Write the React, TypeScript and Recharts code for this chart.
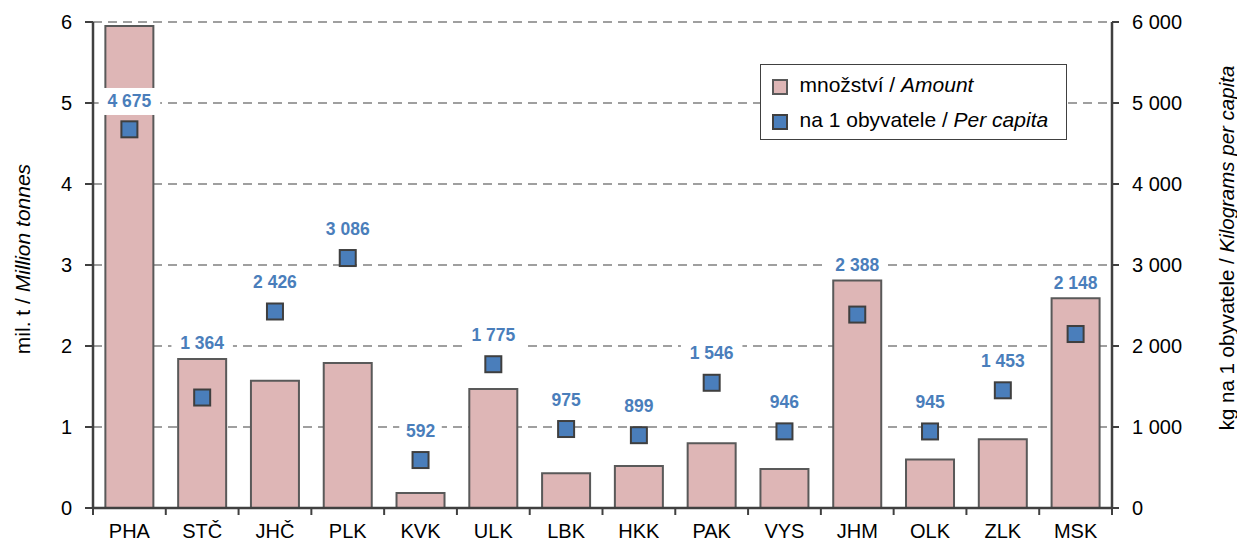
import React from 'react';
import { ComposedChart, Bar, Line, XAxis, YAxis, CartesianGrid, LabelList } from 'recharts';

const categories = ['PHA', 'STČ', 'JHČ', 'PLK', 'KVK', 'ULK', 'LBK', 'HKK', 'PAK', 'VYS', 'JHM', 'OLK', 'ZLK', 'MSK'];
const amount = [5.95, 1.84, 1.57, 1.79, 0.185, 1.47, 0.43, 0.52, 0.8, 0.48, 2.81, 0.6, 0.85, 2.59];
const perCapita = [4675, 1364, 2426, 3086, 592, 1775, 975, 899, 1546, 946, 2388, 945, 1453, 2148];
const leftTicks = [0, 1, 2, 3, 4, 5, 6];
const rightTicks = [0, 1000, 2000, 3000, 4000, 5000, 6000];

// label placement (in right-axis units): above the square, or above the bar when the bar is taller
const GAP_SQUARE = 370;
const GAP_BAR = 200;
const RIGHT_MAX = 6000;

const data = categories.map((c, i) => {
  const overBar = amount[i] * 1000 + GAP_BAR;
  const overSquare = perCapita[i] + GAP_SQUARE;
  let anchor = Math.max(overBar, overSquare);
  if (anchor > RIGHT_MAX) anchor = perCapita[i] + 350;
  return { name: c, amount: amount[i], perCapita: perCapita[i], labelAnchor: anchor };
});

const W = 1237;
const H = 543;
const LEFT_W = 93;
const RIGHT_W = 125;
const TOP = 22;
const XAXIS_H = 35;
const BAND = (W - LEFT_W - RIGHT_W) / categories.length;
const FONT = '"Liberation Sans", Arial, Helvetica, sans-serif';
const AXIS_COLOR = '#404040';
const BAR_FILL = '#deb6b6';
const BLUE = '#4a7ebb';

const fmt = (v: number) => {
  const s = String(Math.round(v));
  return s.replace(/\B(?=(\d{3})+(?!\d))/g, ' ');
};

const XTick = (props: any) => {
  const { x, payload, index } = props;
  const axisY = H - XAXIS_H;
  const half = BAND / 2;
  return (
    <g>
      <line x1={x - half} x2={x - half} y1={axisY} y2={axisY + 7} stroke={AXIS_COLOR} strokeWidth={2} />
      {index === categories.length - 1 && (
        <line x1={x + half} x2={x + half} y1={axisY} y2={axisY + 7} stroke={AXIS_COLOR} strokeWidth={2} />
      )}
      <text x={x} y={axisY + 30} textAnchor="middle" fontSize={20} fill="#000" fontFamily={FONT}>
        {payload.value}
      </text>
    </g>
  );
};

const Square = (props: any) => {
  const { cx, cy, index } = props;
  if (cx == null || cy == null) return <g key={index} />;
  return (
    <rect key={index} x={cx - 8} y={cy - 8} width={16} height={16} fill={BLUE} stroke="#3f3f3f" strokeWidth={2} />
  );
};

const PcLabel = (props: any) => {
  const { x, y, value } = props;
  const text = fmt(value);
  const w = text.length * 9.5 + 14;
  return (
    <g>
      <rect x={x - w / 2} y={y - 13} width={w} height={27} fill="#fff" />
      <text x={x} y={y + 6.5} textAnchor="middle" fontSize={17.5} fontWeight="bold" fill={BLUE} fontFamily={FONT}>
        {text}
      </text>
    </g>
  );
};

const LeftTitle = () => {
  const cx = 22;
  const cy = 259;
  return (
    <text x={cx} y={cy} transform={`rotate(-90 ${cx} ${cy})`} textAnchor="middle" dominantBaseline="central" fontSize={21} fill="#000" fontFamily={FONT}>
      mil. t / <tspan fontStyle="italic">Million  tonnes</tspan>
    </text>
  );
};

const RightTitle = () => {
  const cx = 1226;
  const cy = 248;
  return (
    <text x={cx} y={cy} transform={`rotate(-90 ${cx} ${cy})`} textAnchor="middle" dominantBaseline="central" fontSize={20.5} fill="#000" fontFamily={FONT}>
      kg na 1 obyvatele / <tspan fontStyle="italic">Kilograms per capita</tspan>
    </text>
  );
};

export default function App() {
  return (
    <div style={{ position: 'absolute', left: 0, top: 0, width: W, height: H, background: '#fff', fontFamily: FONT }}>
      <ComposedChart
        width={W}
        height={H}
        data={data}
        margin={{ top: TOP, right: 0, bottom: 0, left: 0 }}
        barCategoryGap="17%"
      >
        <CartesianGrid vertical={false} stroke="#808080" strokeWidth={1.5} strokeDasharray="9 6" yAxisId="left" />
        <XAxis
          dataKey="name"
          height={XAXIS_H}
          axisLine={{ stroke: AXIS_COLOR, strokeWidth: 2.5 }}
          tickLine={false}
          tick={<XTick />}
          interval={0}
        />
        <YAxis
          yAxisId="left"
          width={LEFT_W}
          domain={[0, 6]}
          ticks={leftTicks}
          interval={0}
          axisLine={{ stroke: AXIS_COLOR, strokeWidth: 2.5 }}
          tickLine={{ stroke: AXIS_COLOR, strokeWidth: 2 }}
          tickSize={8}
          tickMargin={13}
          tick={{ fontSize: 20, fill: '#000', fontFamily: FONT }}
          label={<LeftTitle />}
        />
        <YAxis
          yAxisId="right"
          orientation="right"
          width={RIGHT_W}
          domain={[0, RIGHT_MAX]}
          ticks={rightTicks}
          interval={0}
          tickFormatter={fmt}
          axisLine={{ stroke: AXIS_COLOR, strokeWidth: 2.5 }}
          tickLine={{ stroke: AXIS_COLOR, strokeWidth: 2 }}
          tickSize={7}
          tickMargin={13}
          tick={{ fontSize: 20, fill: '#000', fontFamily: FONT }}
          label={<RightTitle />}
        />
        <Bar yAxisId="left" dataKey="amount" fill={BAR_FILL} stroke="#595959" strokeWidth={2} isAnimationActive={false} />
        <Line
          yAxisId="right"
          dataKey="perCapita"
          stroke="none"
          dot={<Square />}
          activeDot={false}
          isAnimationActive={false}
        />
        <Line
          yAxisId="right"
          dataKey="labelAnchor"
          stroke="none"
          dot={false}
          activeDot={false}
          isAnimationActive={false}
        >
          <LabelList dataKey="perCapita" content={<PcLabel />} />
        </Line>
      </ComposedChart>
      <div
        style={{
          position: 'absolute',
          left: 760,
          top: 64,
          width: 307,
          height: 76,
          boxSizing: 'border-box',
          border: '1.5px solid #404040',
          background: '#fff',
          fontFamily: FONT,
          fontSize: 21,
          lineHeight: '24px',
          color: '#000',
        }}
      >
        <div style={{ position: 'absolute', left: 10.5, top: 13.5, width: 16, height: 16, boxSizing: 'border-box', background: BAR_FILL, border: '2px solid #595959' }} />
        <div style={{ position: 'absolute', left: 38.5, top: 7.5, whiteSpace: 'nowrap' }}>
          množství / <i>Amount</i>
        </div>
        <div style={{ position: 'absolute', left: 10.5, top: 48.5, width: 16, height: 16, boxSizing: 'border-box', background: BLUE, border: '2px solid #3f3f3f' }} />
        <div style={{ position: 'absolute', left: 38.5, top: 42.5, whiteSpace: 'nowrap' }}>
          na 1 obyvatele / <i>Per capita</i>
        </div>
      </div>
    </div>
  );
}
